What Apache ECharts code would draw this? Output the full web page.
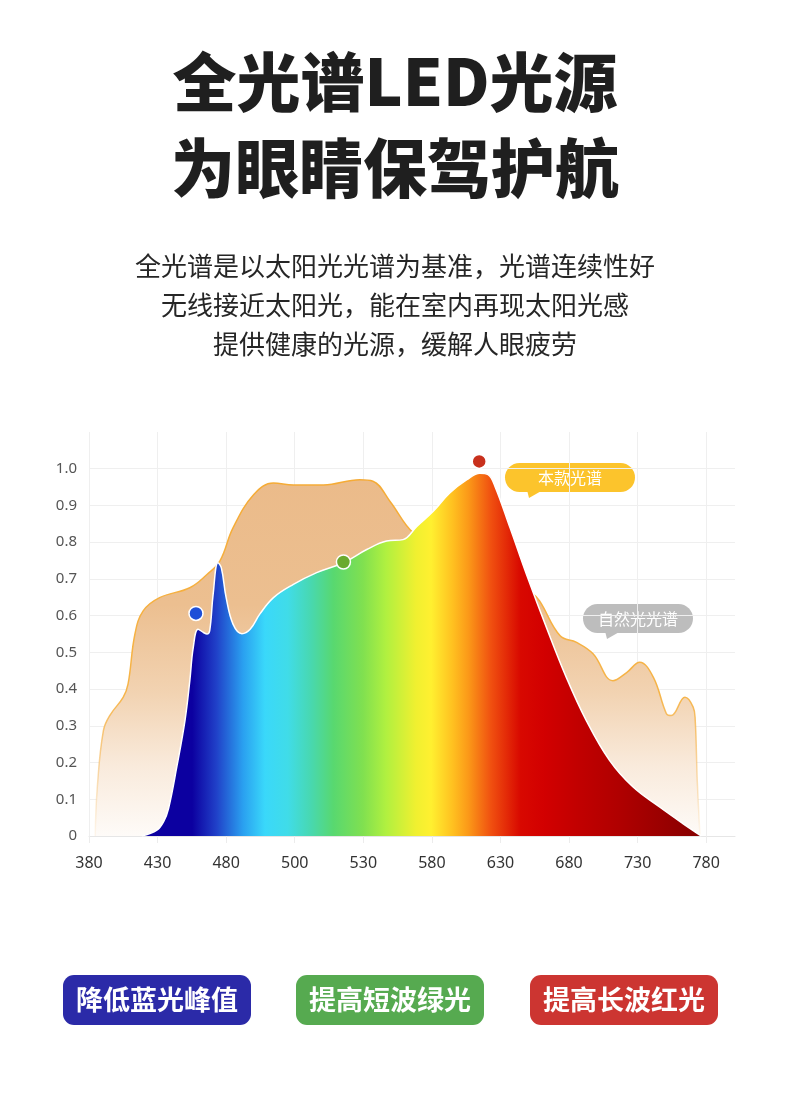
<!DOCTYPE html>
<html>
<head>
<meta charset="utf-8">
<script src="https://cdn.jsdelivr.net/npm/echarts@6/dist/echarts.min.js"></script>
<style>
    html, body { margin: 0; padding: 0; background: #fff; }
    #main { width: 790px; height: 1108px; }
</style>
</head>
<body>
<div id="main"></div>
<script>
// x positions are in axis slots: 0 = "380", 1 = "430", ... 9 = "780"
let tickLabels = ["380", "430", "480", "500", "530", "580", "630", "680", "730", "780"];

// 自然光光谱
let naturalX = [0.09, 0.12, 0.21, 0.31, 0.5, 0.57, 0.67, 0.79, 1.03, 1.47, 1.72, 1.91, 2.10, 2.40, 2.69, 2.98, 3.42, 3.95, 4.14, 4.39, 4.73,
    5.1, 5.6, 6.1, 6.45, 6.57, 6.87, 7.11, 7.35, 7.64, 7.84, 8.03, 8.23, 8.42, 8.49, 8.69, 8.81, 8.84, 8.87, 8.91];
let naturalY = [0, 0.13, 0.287, 0.33, 0.378, 0.414, 0.55, 0.613, 0.649, 0.676, 0.712, 0.749, 0.839, 0.929, 0.961, 0.956, 0.956, 0.970, 0.966, 0.911, 0.825,
    0.79, 0.75, 0.70, 0.663, 0.64, 0.545, 0.527, 0.496, 0.423, 0.445, 0.473, 0.432, 0.333, 0.328, 0.378, 0.351, 0.315, 0.15, 0];

// 本款光谱
let ledX = [0.77, 0.99, 1.09, 1.16, 1.28, 1.40, 1.47, 1.52, 1.59, 1.67, 1.72, 1.76, 1.81, 1.88, 1.93, 2.0, 2.10, 2.23, 2.35, 2.49, 2.69, 2.98,
    3.32, 3.71, 4.05, 4.34, 4.58, 4.78, 5.02, 5.26, 5.51, 5.70, 5.82, 5.92, 6.14, 6.38, 6.67, 6.96, 7.25, 7.59, 7.93, 8.32, 8.66, 8.93];
let ledY = [0, 0.016, 0.04, 0.075, 0.188, 0.315, 0.423, 0.513, 0.563, 0.554, 0.55, 0.559, 0.658, 0.744, 0.73, 0.649, 0.577, 0.551, 0.563, 0.604, 0.649, 0.685,
    0.717, 0.744, 0.78, 0.803, 0.807, 0.843, 0.884, 0.934, 0.970, 0.988, 0.984, 0.952, 0.839, 0.712, 0.568, 0.432, 0.315, 0.206, 0.134, 0.079, 0.034, 0];

// 标记点
let dotX = [1.56, 3.71, 5.69];
let dotY = [0.606, 0.746, 1.02];
let dotColors = ["#1e4fd8", "#6aaa2e", "#c8301c"];

let buttonTexts = ["降低蓝光峰值", "提高短波绿光", "提高长波红光"];
let buttonColors = ["#2b2aa8", "#56aa50", "#cc3531"];

let cjk = "'Noto Sans CJK SC', sans-serif";

let chartDom = document.getElementById("main");
let chart = echarts.init(chartDom);

let spectrumStops = [
    {offset: 0, color: "#0c00a0"},
    {offset: 0.09, color: "#0c00a0"},
    {offset: 0.133, color: "#2040c8"},
    {offset: 0.181, color: "#2aa0f0"},
    {offset: 0.22, color: "#3ad8fa"},
    {offset: 0.261, color: "#40dce8"},
    {offset: 0.302, color: "#48d8b0"},
    {offset: 0.342, color: "#58d870"},
    {offset: 0.395, color: "#80e050"},
    {offset: 0.436, color: "#b0f040"},
    {offset: 0.49, color: "#f0f030"},
    {offset: 0.517, color: "#fff030"},
    {offset: 0.556, color: "#ffc020"},
    {offset: 0.584, color: "#fb9818"},
    {offset: 0.624, color: "#f05010"},
    {offset: 0.677, color: "#d80800"},
    {offset: 0.719, color: "#d20000"},
    {offset: 0.785, color: "#c00000"},
    {offset: 0.852, color: "#b00000"},
    {offset: 1, color: "#860000"}
];

function bubble(x, y, w, h, text, color, tailX) {
    return {
        type: "group",
        left: x,
        top: y,
        z: 100,
        children: [
            {type: "rect", shape: {x: 0, y: 0, width: w, height: h, r: h / 2}, style: {fill: color}},
            {type: "polygon", shape: {points: [[tailX, h - 2], [tailX + 16, h - 2], [tailX + 2, h + 6]]}, style: {fill: color}},
            {
                type: "text", x: w / 2, y: h / 2,
                style: {text: text, fill: "#fff", font: "16px " + cjk, align: "center", verticalAlign: "middle"}
            }
        ]
    };
}

let graphics = [
    {
        type: "text", left: "center", top: 50,
        style: {text: "全光谱LED光源", fill: "#1f1f1f", font: "900 64px " + cjk}
    },
    {
        type: "text", left: "center", top: 136,
        style: {text: "为眼睛保驾护航", fill: "#1f1f1f", font: "900 64px " + cjk}
    },
    {
        type: "text", left: "center", top: 253,
        style: {text: "全光谱是以太阳光光谱为基准，光谱连续性好", fill: "#262626", font: "26px " + cjk}
    },
    {
        type: "text", left: "center", top: 292,
        style: {text: "无线接近太阳光，能在室内再现太阳光感", fill: "#262626", font: "26px " + cjk}
    },
    {
        type: "text", left: "center", top: 331,
        style: {text: "提供健康的光源，缓解人眼疲劳", fill: "#262626", font: "26px " + cjk}
    },
    bubble(505, 463, 130, 29, "本款光谱", "#fcc42c", 22),
    bubble(583, 604, 110, 29, "自然光光谱", "#bdbdbd", 22)
];

let buttonLeft = [63, 296, 530];
buttonTexts.forEach((t, i) => {
    graphics.push({
        type: "group",
        left: buttonLeft[i],
        top: 975,
        children: [
            {type: "rect", shape: {x: 0, y: 0, width: 188, height: 50, r: 11}, style: {fill: buttonColors[i]}},
            {
                type: "text", x: 94, y: 25,
                style: {text: t, fill: "#fff", font: "bold 27px " + cjk, align: "center", verticalAlign: "middle"}
            }
        ]
    });
});

let option = {
    backgroundColor: "#fff",
    animation: false,
    grid: {
        left: 89,
        right: 55,
        top: 432,
        bottom: 272,
        containLabel: false
    },
    xAxis: {
        type: "value",
        min: 0,
        max: 9.42,
        interval: 1,
        axisLine: {show: true, lineStyle: {color: "#e6e6e6"}},
        axisTick: {show: true, length: 7, lineStyle: {color: "#ececec"}},
        axisLabel: {
            color: "#333",
            fontSize: 16,
            fontFamily: "Noto Sans",
            margin: 19,
            showMaxLabel: false,
            formatter: v => tickLabels[Math.round(v)] !== undefined && Math.abs(v - Math.round(v)) < 1e-6 ? tickLabels[Math.round(v)] : ""
        },
        splitLine: {show: true, showMaxLine: false, lineStyle: {color: "#efefef"}}
    },
    yAxis: {
        type: "value",
        min: 0,
        max: 1.1,
        interval: 0.1,
        axisLine: {show: false},
        axisTick: {show: false},
        axisLabel: {
            color: "#555",
            fontSize: 15,
            fontFamily: "Noto Sans",
            margin: 12,
            showMaxLabel: false,
            formatter: v => v === 0 ? "0" : (v > 1.05 ? "" : v.toFixed(1))
        },
        splitLine: {show: true, showMaxLine: false, lineStyle: {color: "#efefef"}}
    },
    graphic: graphics,
    series: [
        {
            name: "自然光光谱",
            type: "line",
            smooth: 0.4,
            symbol: "none",
            z: 2,
            data: naturalX.map((x, i) => [x, naturalY[i]]),
            lineStyle: {
                width: 1.5,
                color: new echarts.graphic.LinearGradient(0, 0, 0, 1, [
                    {offset: 0, color: "#f5ab35"},
                    {offset: 0.6, color: "#f6b448"},
                    {offset: 1, color: "rgba(246,190,110,0.08)"}
                ])
            },
            areaStyle: {
                opacity: 1,
                color: new echarts.graphic.LinearGradient(0, 0, 0, 1, [
                    {offset: 0, color: "#ebbb8a"},
                    {offset: 0.35, color: "#ecbf90"},
                    {offset: 0.6, color: "#f2d3b2"},
                    {offset: 0.8, color: "#f9eadb"},
                    {offset: 1, color: "#fefbf8"}
                ])
            }
        },
        {
            name: "本款光谱",
            type: "line",
            smooth: 0.4,
            symbol: "none",
            z: 3,
            data: ledX.map((x, i) => [x, ledY[i]]),
            lineStyle: {width: 1.5, color: "#ffffff"},
            areaStyle: {
                opacity: 1,
                color: new echarts.graphic.LinearGradient(0, 0, 1, 0, spectrumStops)
            }
        },
        {
            type: "scatter",
            z: 5,
            symbolSize: 14,
            data: dotX.map((x, i) => ({
                value: [x, dotY[i]],
                itemStyle: {color: dotColors[i], borderColor: "#fff", borderWidth: 1.5, opacity: 1}
            }))
        }
    ]
};

option && chart.setOption(option);
</script>
</body>
</html>
